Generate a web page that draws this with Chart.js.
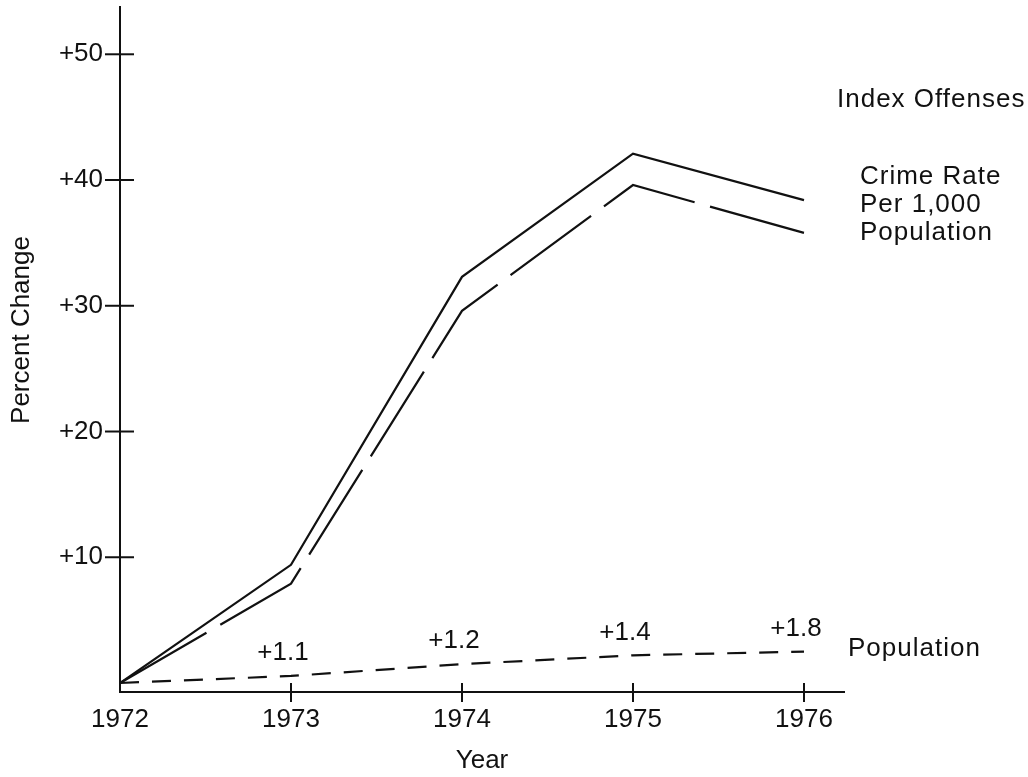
<!DOCTYPE html>
<html>
<head>
<meta charset="utf-8">
<script src="https://cdn.jsdelivr.net/npm/chart.js@4.4.1/dist/chart.umd.min.js"></script>
<style>
  html, body { margin: 0; padding: 0; background: #fff; }
  #wrap { width: 1028px; height: 777px; }
</style>
</head>
<body>
<div id="wrap"><canvas id="chart" width="1028" height="777"></canvas></div>
<script>
const years = [1972, 1973, 1974, 1975, 1976]
const indexOffenses = [0, 9.4, 32.3, 42.1, 38.4]
const crimeRate = [0, 7.9, 29.6, 39.6, 35.8]
const population = [0, 0.56, 1.5, 2.2, 2.5]
// yearly population change, written over 1973..1976
const populationNotes = ['+1.1', '+1.2', '+1.4', '+1.8']
const yTicks = [10, 20, 30, 40, 50]
const crimeRateLabel = ['Crime Rate', 'Per 1,000', 'Population']

const ink = '#111'
const family = "'Liberation Sans', Arial, sans-serif"

function points(values) {
  return years.map((yr, i) => ({ x: yr, y: values[i] }))
}

// tick marks that cross the axes, the in-chart labels and the y title
const annotate = {
  id: 'annotate',
  afterDraw(chart) {
    const xs = chart.scales.x, ys = chart.scales.y, ctx = chart.ctx
    ctx.save()
    ctx.strokeStyle = ink
    ctx.lineWidth = 2
    yTicks.forEach(v => {
      const py = ys.getPixelForValue(v)
      ctx.beginPath()
      ctx.moveTo(xs.left - 15, py)
      ctx.lineTo(xs.left + 14, py)
      ctx.stroke()
    })
    years.slice(1).forEach(yr => {
      const px = xs.getPixelForValue(yr)
      ctx.beginPath()
      ctx.moveTo(px, ys.bottom - 9)
      ctx.lineTo(px, ys.bottom + 10)
      ctx.stroke()
    })

    ctx.fillStyle = ink
    ctx.font = '26px ' + family
    ctx.textAlign = 'center'
    ctx.textBaseline = 'middle'
    populationNotes.forEach((t, i) => {
      ctx.fillText(t, xs.getPixelForValue(years[i + 1]) - 8, ys.getPixelForValue(population[i + 1]) - 23)
    })

    let end = xs.getPixelForValue(years[years.length - 1])
    ctx.textAlign = 'left'
    ctx.letterSpacing = '1px'
    ctx.fillText('Index Offenses', end + 33, chart.chartArea.top + 93)
    crimeRateLabel.forEach((t, i) => {
      ctx.fillText(t, end + 56, chart.chartArea.top + 170 + i * 28)
    })
    ctx.fillText('Population', end + 44, ys.getPixelForValue(population[population.length - 1]) - 3)
    ctx.letterSpacing = '0px'

    ctx.translate(22, 330)
    ctx.rotate(-Math.PI / 2)
    ctx.textAlign = 'center'
    ctx.fillText('Percent Change', 0, 0)
    ctx.restore()
  }
}

const config = {
  type: 'line',
  data: {
    datasets: [
      {
        label: 'Index Offenses',
        data: points(indexOffenses),
        borderColor: ink,
        borderWidth: 2.2,
        pointRadius: 0,
        tension: 0
      },
      {
        label: 'Crime Rate Per 1,000 Population',
        data: points(crimeRate),
        borderColor: ink,
        borderWidth: 2.2,
        borderDash: [100, 16],
        pointRadius: 0,
        tension: 0
      },
      {
        label: 'Population',
        data: points(population),
        borderColor: ink,
        borderWidth: 2.2,
        borderDash: [19, 13],
        pointRadius: 0,
        tension: 0
      }
    ]
  },
  options: {
    responsive: false,
    animation: false,
    devicePixelRatio: 1,
    layout: {
      padding: { top: 7, right: 184, left: 0, bottom: 0 }
    },
    plugins: {
      legend: { display: false },
      tooltip: { enabled: false }
    },
    scales: {
      x: {
        type: 'linear',
        min: 1972,
        max: 1976.234,
        grid: { display: false, drawTicks: false },
        border: { display: true, color: ink, width: 2 },
        afterBuildTicks: scale => {
          scale.ticks = years.map(v => ({ value: v }))
        },
        afterFit: scale => {
          scale.height = 85
          scale.paddingLeft = 0
          scale.paddingRight = 0
        },
        ticks: {
          color: ink,
          padding: 12,
          font: { family: family, size: 26 },
          maxRotation: 0,
          callback: v => String(v)
        },
        title: {
          display: true,
          text: 'Year',
          color: ink,
          font: { family: family, size: 26 },
          padding: { top: 0, bottom: 1 }
        }
      },
      y: {
        min: -0.716,
        max: 53.76,
        grid: { display: false, drawTicks: false },
        border: { display: true, color: ink, width: 2 },
        afterBuildTicks: scale => {
          scale.ticks = yTicks.map(v => ({ value: v }))
        },
        afterFit: scale => {
          scale.width = 120
          scale.paddingTop = 0
          scale.paddingBottom = 0
        },
        ticks: {
          color: ink,
          padding: 17,
          font: { family: family, size: 26 },
          callback: v => '+' + v
        }
      }
    }
  },
  plugins: [annotate]
}

new Chart(document.getElementById('chart'), config)
</script>
</body>
</html>
